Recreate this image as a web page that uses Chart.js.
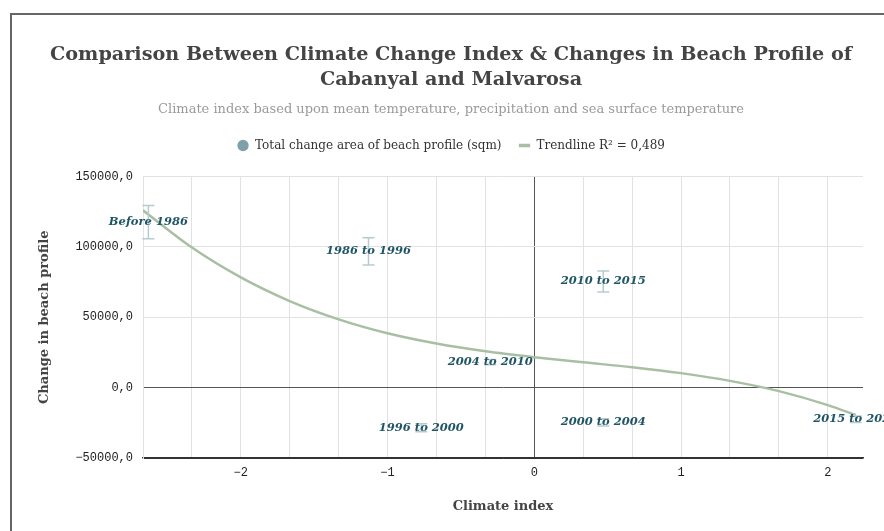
<!DOCTYPE html>
<html>
<head>
<meta charset="utf-8">
<script src="https://cdn.jsdelivr.net/npm/chart.js@4.4.1/dist/chart.umd.min.js"></script>
<style>
  html, body { margin: 0; padding: 0; background: #fff; overflow: hidden; width: 884px; height: 531px; }
  #frame { position: absolute; left: 10px; top: 13px; width: 900px; height: 540px;
           border-left: 2px solid #666; border-top: 2px solid #666; }
  #wrap { position: absolute; left: 12px; top: 15px; width: 878px; height: 516px; }
</style>
</head>
<body>
<div id="frame"></div>
<div id="wrap"><canvas id="chart"></canvas></div>
<script>
// Periods, their climate index and the measured change of beach profile area (sqm)
const periods = ['Before 1986', '1986 to 1996', '1996 to 2000', '2000 to 2004', '2004 to 2010', '2010 to 2015', '2015 to 2020'];
const climateIndex = [-2.63, -1.13, -0.77, 0.47, -0.30, 0.47, 2.19];
const profileChange = [117600, 96800, -28500, -24700, 18100, 75400, -22500];
const profileError = [11800, 9700, 2900, 2500, 1800, 7500, 2300];

// Trendline samples
const trendX = [-2.667, -2.333, -2, -1.667, -1.333, -1, -0.667, -0.333, 0, 0.333, 0.667, 1, 1.333, 1.667, 2, 2.19];
const trendY = [126000, 99500, 78300, 61500, 48500, 38600, 31300, 25800, 21600, 18000, 14500, 10300, 4800, -2500, -12400, -19400];

// Axis ranges and labelled ticks
const xRange = [-8 / 3, 2.24];
const xLabelled = [-2, -1, 0, 1, 2];
const yRange = [-50000, 150000];
const yTickStep = 50000;

const serif = "'DejaVu Serif', 'Liberation Serif', serif";
const mono = "'Liberation Mono', 'DejaVu Sans Mono', monospace";
const pointColor = '#7fa0a8';
const trendColor = '#a9bfa3';

function fmtNumber(v, digits) {
  return v.toFixed(digits).replace('.', ',').replace('-', '\u2212');
}

// Extra room between the legend and the plot
const legendGap = {
  id: 'legendGap',
  beforeInit(chart) {
    const fit = chart.legend.fit;
    chart.legend.fit = function () {
      fit.bind(this)();
      this.height += 15;
    };
  }
};

const errorBars = {
  id: 'errorBars',
  afterDatasetsDraw(chart) {
    const { ctx, scales: { x, y } } = chart;
    ctx.save();
    ctx.strokeStyle = '#b7cbcf';
    ctx.lineWidth = 1.5;
    climateIndex.forEach((cx, i) => {
      const px = x.getPixelForValue(cx);
      const top = y.getPixelForValue(profileChange[i] + profileError[i]);
      const bot = y.getPixelForValue(profileChange[i] - profileError[i]);
      ctx.beginPath();
      ctx.moveTo(px, top); ctx.lineTo(px, bot);
      ctx.moveTo(px - 6, top); ctx.lineTo(px + 6, top);
      ctx.moveTo(px - 6, bot); ctx.lineTo(px + 6, bot);
      ctx.stroke();
    });
    ctx.restore();
  }
};

const pointLabels = {
  id: 'pointLabels',
  afterDatasetsDraw(chart) {
    const { ctx } = chart;
    const meta = chart.getDatasetMeta(1);
    ctx.save();
    ctx.font = "italic bold 11.5px " + serif;
    ctx.fillStyle = '#1f5566';
    ctx.textAlign = 'center';
    ctx.textBaseline = 'middle';
    meta.data.forEach((pt, i) => ctx.fillText(periods[i], pt.x, pt.y));
    ctx.restore();
  }
};

new Chart(document.getElementById('chart'), {
  data: {
    datasets: [
      {
        type: 'line',
        label: 'Trendline R\u00b2 = 0,489',
        data: trendX.map((x, i) => ({ x, y: trendY[i] })),
        borderColor: trendColor,
        borderWidth: 2.5,
        pointRadius: 0,
        pointHoverRadius: 0,
        cubicInterpolationMode: 'monotone',
        fill: false
      },
      {
        type: 'scatter',
        label: 'Total change area of beach profile (sqm)',
        data: climateIndex.map((x, i) => ({ x, y: profileChange[i] })),
        backgroundColor: pointColor,
        borderColor: pointColor,
        pointRadius: 0,
        pointHoverRadius: 0
      }
    ]
  },
  options: {
    responsive: true,
    maintainAspectRatio: false,
    animation: false,
    layout: { padding: 0 },
    plugins: {
      title: {
        display: true,
        text: ['Comparison Between Climate Change Index & Changes in Beach Profile of', 'Cabanyal and Malvarosa'],
        color: '#444',
        font: { family: serif, size: 19.2, weight: 'bold', lineHeight: 1.3 },
        padding: { top: 28, bottom: 9 }
      },
      subtitle: {
        display: true,
        text: 'Climate index based upon mean temperature, precipitation and sea surface temperature',
        color: '#9a9a9a',
        font: { family: serif, size: 13 },
        padding: { top: 0, bottom: 5 }
      },
      legend: {
        display: true,
        labels: {
          usePointStyle: true,
          boxWidth: 12,
          boxHeight: 8,
          padding: 17,
          color: '#333',
          font: { family: serif, size: 12 },
          generateLabels: () => [
            { text: 'Total change area of beach profile (sqm)', fillStyle: pointColor, strokeStyle: pointColor,
              lineWidth: 0, pointStyle: 'circle', datasetIndex: 1, fontColor: '#333' },
            { text: 'Trendline R\u00b2 = 0,489', fillStyle: trendColor, strokeStyle: trendColor,
              lineWidth: 3.5, pointStyle: 'line', datasetIndex: 0, fontColor: '#333' }
          ]
        }
      },
      tooltip: { enabled: false }
    },
    scales: {
      x: {
        type: 'linear',
        min: xRange[0],
        max: xRange[1],
        afterBuildTicks(scale) {
          const ticks = [];
          for (let k = -8; k <= 6; k++) ticks.push({ value: k / 3 });
          scale.ticks = ticks;
        },
        afterFit(scale) { scale.height = 73; },
        ticks: {
          autoSkip: false,
          maxRotation: 0,
          padding: 8,
          color: '#222',
          font: { family: mono, size: 12 },
          callback: (v) => {
            const r = Math.round(v);
            return (Math.abs(v - r) < 1e-6 && xLabelled.includes(r)) ? fmtNumber(r, 0) : '';
          }
        },
        grid: {
          drawTicks: false,
          color: (c) => (c.tick && Math.abs(c.tick.value) < 1e-9 ? '#555' : '#e2e2e2'),
          lineWidth: 1
        },
        border: { display: true, color: '#333', width: 1.5 },
        title: {
          display: true,
          text: 'Climate index',
          color: '#444',
          font: { family: serif, size: 13, weight: 'bold' },
          padding: { top: 4, bottom: 17 }
        }
      },
      y: {
        type: 'linear',
        min: yRange[0],
        max: yRange[1],
        afterFit(scale) { scale.width = 131; },
        ticks: {
          stepSize: yTickStep,
          padding: 10,
          color: '#222',
          font: { family: mono, size: 12 },
          callback: (v) => fmtNumber(v, 1)
        },
        grid: {
          drawTicks: false,
          color: (c) => {
            const v = c.tick ? c.tick.value : null;
            if (v === 0) return '#555';
            if (v === yRange[0]) return '#333';
            return '#e2e2e2';
          },
          lineWidth: 1
        },
        border: { display: true, color: '#e2e2e2', width: 1 },
        title: {
          display: true,
          text: 'Change in beach profile',
          color: '#444',
          font: { family: serif, size: 13, weight: 'bold' },
          padding: { top: 25, bottom: 4 }
        }
      },
      // empty right-hand gutter beside the plot
      gutter: {
        type: 'linear',
        position: 'right',
        display: true,
        afterFit(scale) { scale.width = 27; },
        grid: { display: false },
        ticks: { display: false },
        border: { display: false }
      }
    }
  },
  plugins: [legendGap, errorBars, pointLabels]
});
</script>
</body>
</html>
